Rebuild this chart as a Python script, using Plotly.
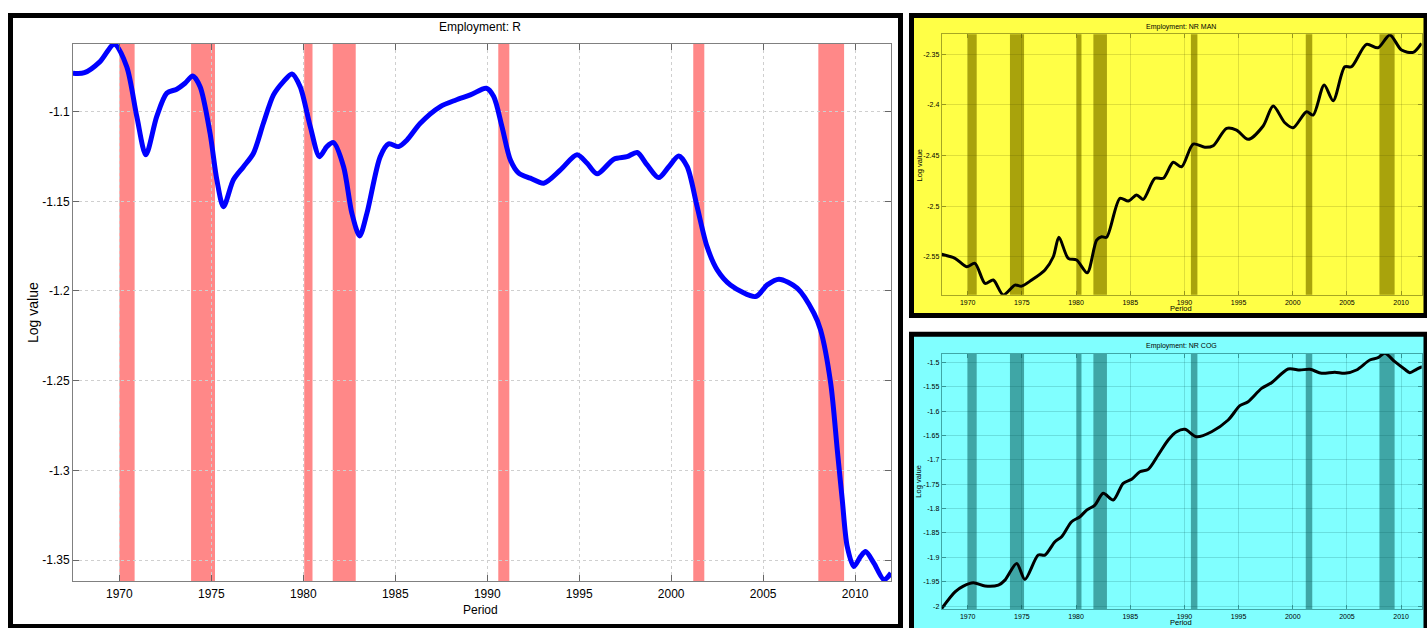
import plotly.graph_objects as go

# ---------------- data ----------------
# NBER recession periods (decimal years)
rec_start = [1970.0, 1973.9, 1980.05, 1981.6, 1990.6, 2001.2, 2008.0]
rec_end = [1970.83, 1975.2, 1980.5, 1982.85, 1991.2, 2001.8, 2009.4]

# Employment: R
years_r = [1967.48, 1968.1, 1968.95, 1969.73, 1970.4, 1970.95, 1971.44, 1972.03, 1972.58, 1973.12,
           1973.57, 1973.99, 1974.39, 1974.93, 1975.3, 1975.66, 1976.2, 1976.75, 1977.29, 1977.83,
           1978.38, 1978.92, 1979.38, 1979.83, 1980.38, 1980.88, 1981.28, 1981.64, 1982.19, 1982.64,
           1983.06, 1983.46, 1984.18, 1984.64, 1985.18, 1985.64, 1986.36, 1987.45, 1988.3, 1989.08,
           1989.95, 1990.35, 1990.8, 1991.26, 1991.71, 1992.34, 1993.07, 1993.98, 1994.88, 1995.43,
           1995.97, 1996.88, 1997.6, 1998.15, 1998.69, 1999.32, 1999.87, 2000.41, 2000.87, 2001.41,
           2001.95, 2002.5, 2003.22, 2004.59, 2005.22, 2005.86, 2006.85, 2007.76, 2008.12, 2008.67,
           2009.03, 2009.3, 2009.57, 2009.93, 2010.3, 2010.57, 2011.02, 2011.57, 2011.95]
vals_r = [-1.0786, -1.0783, -1.0721, -1.0624, -1.0749, -1.1028, -1.1241, -1.1028, -1.0897, -1.0875,
          -1.0842, -1.0801, -1.0861, -1.1120, -1.1380, -1.1530, -1.1380, -1.1307, -1.1232, -1.1065,
          -1.0907, -1.0833, -1.0790, -1.0861, -1.1084, -1.1251, -1.1195, -1.1173, -1.1307, -1.1566,
          -1.1693, -1.1566, -1.1251, -1.1180, -1.1195, -1.1158, -1.1065, -1.0972, -1.0935, -1.0907,
          -1.0870, -1.0916, -1.1084, -1.1270, -1.1343, -1.1371, -1.1399, -1.1325, -1.1241, -1.1288,
          -1.1347, -1.1265, -1.1251, -1.1228, -1.1297, -1.1368, -1.1307, -1.1247, -1.1307, -1.1530,
          -1.1753, -1.1882, -1.1966, -1.2031, -1.1966, -1.1934, -1.1984, -1.2124, -1.2217, -1.2514,
          -1.2886, -1.3164, -1.3425, -1.3536, -1.3480, -1.3453, -1.3517, -1.3610, -1.3573]

# Employment: NR MAN
years_man = [1967.6, 1968.83, 1969.9, 1970.67, 1971.6, 1972.36, 1973.28, 1974.36, 1974.98, 1975.9,
             1977.13, 1977.9, 1978.42, 1979.28, 1980.05, 1981.03, 1981.9, 1982.36, 1982.82, 1984.05,
             1984.82, 1985.59, 1986.2, 1987.28, 1988.05, 1988.97, 1989.74, 1990.81, 1991.89, 1992.66,
             1993.89, 1994.81, 1995.88, 1997.27, 1998.19, 1999.27, 2000.04, 2001.27, 2001.88, 2002.9,
             2003.73, 2004.8, 2005.42, 2006.8, 2007.87, 2008.96, 2010.04, 2011.11, 2011.88]
vals_man = [-2.5476, -2.5516, -2.5598, -2.5565, -2.5763, -2.5730, -2.5878, -2.5780, -2.5790, -2.5730,
            -2.5630, -2.5500, -2.5308, -2.5516, -2.5532, -2.5658, -2.5335, -2.5302, -2.5308, -2.4923,
            -2.4950, -2.4890, -2.4933, -2.4725, -2.4725, -2.4567, -2.4611, -2.4386, -2.4419, -2.4403,
            -2.4231, -2.4248, -2.4340, -2.4208, -2.4011, -2.4176, -2.4225, -2.4067, -2.4100, -2.3803,
            -2.3958, -2.3623, -2.3623, -2.3401, -2.3435, -2.3309, -2.3458, -2.3480, -2.3391]

# Employment: NR COG
years_cog = [1967.6, 1968.83, 1969.6, 1970.52, 1971.6, 1972.83, 1973.44, 1974.52, 1975.28, 1976.51,
             1977.13, 1978.05, 1978.67, 1979.59, 1980.36, 1980.98, 1981.74, 1982.51, 1983.43, 1984.35,
             1985.13, 1985.89, 1986.66, 1987.58, 1988.5, 1989.28, 1990.04, 1991.12, 1992.51, 1994.04,
             1995.12, 1995.88, 1997.12, 1998.04, 1999.57, 2000.65, 2001.58, 2002.66, 2003.88, 2004.8,
             2005.88, 2007.11, 2007.87, 2008.5, 2009.42, 2010.34, 2010.8, 2011.42, 2011.95]
vals_cog = [-2.0050, -1.9707, -1.9590, -1.9522, -1.9590, -1.9570, -1.9467, -1.9125, -1.9453, -1.8954,
            -1.8954, -1.8680, -1.8578, -1.8271, -1.8168, -1.8031, -1.7928, -1.7688, -1.7826, -1.7483,
            -1.7401, -1.7245, -1.7196, -1.6902, -1.6594, -1.6424, -1.6375, -1.6527, -1.6424, -1.6184,
            -1.5890, -1.5808, -1.5534, -1.5419, -1.5137, -1.5158, -1.5144, -1.5226, -1.5205, -1.5226,
            -1.5158, -1.4953, -1.4906, -1.4815, -1.4988, -1.5144, -1.5213, -1.5144, -1.5090]

x_ticks = [1970, 1975, 1980, 1985, 1990, 1995, 2000, 2005, 2010]
y_ticks_r = [-1.35, -1.3, -1.25, -1.2, -1.15, -1.1]
y_ticks_man = [-2.55, -2.5, -2.45, -2.4, -2.35]
y_ticks_cog = [-2.0, -1.95, -1.9, -1.85, -1.8, -1.75, -1.7, -1.65, -1.6, -1.55, -1.5]

titles = ["Employment: R", "Employment: NR MAN", "Employment: NR COG"]

# ---------------- layout helpers ----------------
W, H = 1427, 628
FONT = "Liberation Sans, Arial, sans-serif"


def fx(p):
    return p / W


def fy(p):
    return 1 - p / H


def lab(v):
    return f"{v:g}"


fig = go.Figure()

fig.add_trace(go.Scatter(x=years_r, y=vals_r, mode="lines", xaxis="x", yaxis="y",
                         line=dict(color="#0000ff", width=5, shape="spline", smoothing=0.8),
                         showlegend=False, hoverinfo="x+y"))
fig.add_trace(go.Scatter(x=years_man, y=vals_man, mode="lines", xaxis="x2", yaxis="y2",
                         line=dict(color="#000000", width=3, shape="spline", smoothing=0.8),
                         showlegend=False, hoverinfo="x+y"))
fig.add_trace(go.Scatter(x=years_cog, y=vals_cog, mode="lines", xaxis="x3", yaxis="y3",
                         line=dict(color="#000000", width=3, shape="spline", smoothing=0.8),
                         showlegend=False, hoverinfo="x+y"))

shapes = []
# panel frames (black borders with fills)
shapes.append(dict(type="rect", xref="paper", yref="paper", layer="below",
                   x0=fx(10.5), x1=fx(900.5), y0=fy(626.5), y1=fy(15.5),
                   line=dict(color="black", width=5), fillcolor="white"))
shapes.append(dict(type="rect", xref="paper", yref="paper", layer="below",
                   x0=fx(911.5), x1=fx(1426), y0=fy(315.5), y1=fy(15.5),
                   line=dict(color="black", width=5), fillcolor="#ffff46"))
shapes.append(dict(type="rect", xref="paper", yref="paper", layer="below",
                   x0=fx(911.5), x1=fx(1426), y0=fy(632), y1=fy(334.2),
                   line=dict(color="black", width=5), fillcolor="#80ffff"))

band_colors = {"x": "#ff8888", "x2": "#a9a30c", "x3": "#3fa6a6"}
for ax, col in band_colors.items():
    ya = "y" + ax[1:]
    for s, e in zip(rec_start, rec_end):
        shapes.append(dict(type="rect", xref=ax, yref=ya + " domain", layer="below",
                           x0=s, x1=e, y0=0, y1=1, line=dict(width=0), fillcolor=col))

fig.update_layout(shapes=shapes)

left_axis = dict(showline=True, mirror="ticks", ticks="inside", showgrid=True,
                 griddash="dot", zeroline=False, tickcolor="#666", ticklen=6,
                 linecolor="#808080", gridcolor="#cfcfcf", tickfont=dict(size=12))


def small_axis(rgb):
    return dict(showline=True, mirror="ticks", ticks="inside", showgrid=True,
                griddash="solid", zeroline=False, ticklen=4,
                tickcolor=f"rgba({rgb},0.5)", linecolor=f"rgba({rgb},0.5)",
                gridcolor=f"rgba({rgb},0.18)", gridwidth=1, tickfont=dict(size=7))


yel = small_axis("80,80,0")
cya = small_axis("0,80,80")

fig.update_layout(
    width=W, height=H, autosize=False,
    margin=dict(l=0, r=0, t=0, b=0),
    paper_bgcolor="white", plot_bgcolor="rgba(0,0,0,0)",
    font=dict(family=FONT, color="black"),
    showlegend=False,
    xaxis=dict(domain=[fx(73), fx(891)], range=[1967.48, 2011.95], anchor="y",
               tickvals=x_ticks, ticktext=[str(v) for v in x_ticks],
               ticklabelstandoff=2, **left_axis),
    yaxis=dict(domain=[fy(581), fy(44)], range=[-1.3617, -1.0623], anchor="x",
               tickvals=y_ticks_r, ticktext=[lab(v) for v in y_ticks_r],
               ticklabelstandoff=0, **left_axis),
    xaxis2=dict(domain=[fx(941.7), fx(1421.7)], range=[1967.6, 2011.9], anchor="y2",
                tickvals=x_ticks, ticktext=[str(v) for v in x_ticks],
                ticklabelstandoff=1, **yel),
    yaxis2=dict(domain=[fy(294.7), fy(34.3)], range=[-2.5875, -2.3302], anchor="x2",
                tickvals=y_ticks_man, ticktext=[lab(v) for v in y_ticks_man],
                ticklabelstandoff=0, **yel),
    xaxis3=dict(domain=[fx(941.7), fx(1421.7)], range=[1967.6, 2011.9], anchor="y3",
                tickvals=x_ticks, ticktext=[str(v) for v in x_ticks],
                ticklabelstandoff=1, **cya),
    yaxis3=dict(domain=[fy(609), fy(354)], range=[-2.006, -1.483], anchor="x3",
                tickvals=y_ticks_cog, ticktext=[lab(v) for v in y_ticks_cog],
                ticklabelstandoff=0, **cya),
)

ann = []
# left panel texts
ann.append(dict(text=titles[0], x=fx(480), y=fy(27), font=dict(size=12)))
ann.append(dict(text="Period", x=fx(480), y=fy(610), font=dict(size=12)))
ann.append(dict(text="Log value", x=fx(33), y=fy(313), font=dict(size=14), textangle=-90))
# right top
ann.append(dict(text=titles[1], x=fx(1181), y=fy(26.7), font=dict(size=7)))
ann.append(dict(text="Period", x=fx(1181), y=fy(308.3), font=dict(size=7.5)))
ann.append(dict(text="Log value", x=fx(919), y=fy(165.5), font=dict(size=7.5), textangle=-90))
# right bottom
ann.append(dict(text=titles[2], x=fx(1181), y=fy(346), font=dict(size=7)))
ann.append(dict(text="Period", x=fx(1181), y=fy(622.7), font=dict(size=7.5)))
ann.append(dict(text="Log value", x=fx(919), y=fy(481.7), font=dict(size=7.5), textangle=-90))
for a in ann:
    a.update(xref="paper", yref="paper", showarrow=False, xanchor="center", yanchor="middle")
fig.update_layout(annotations=ann)

fig.write_html("out.html", config={"displayModeBar": False},
               post_script="document.body.style.margin='0';document.body.style.overflow='hidden';")
